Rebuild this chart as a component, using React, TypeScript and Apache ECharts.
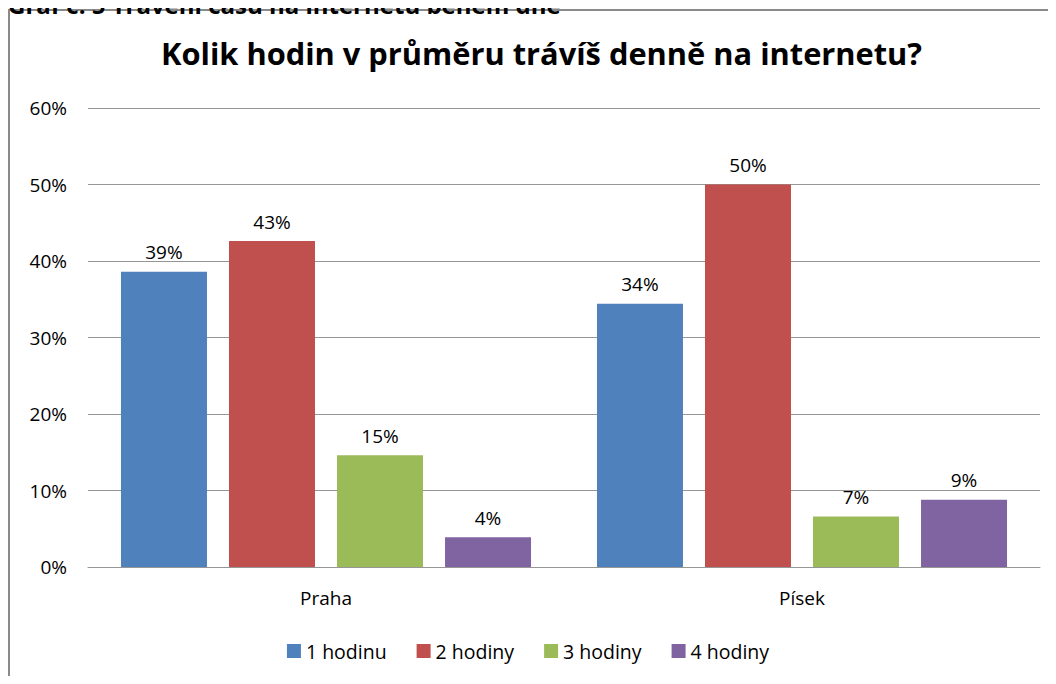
import React, { useEffect, useRef } from "react";
import * as echarts from "echarts";

const categories = ["Praha", "Písek"];
const seriesNames = ["1 hodinu", "2 hodiny", "3 hodiny", "4 hodiny"];
const hodinu1 = [38.6, 34.4];
const hodiny2 = [42.6, 50.0];
const hodiny3 = [14.6, 6.6];
const hodiny4 = [3.9, 8.8];
const colors = ["#4F81BD", "#C0504D", "#9BBB59", "#8064A2"];
const yTicks = [0, 10, 20, 30, 40, 50, 60];

export default function App() {
  const ref = useRef<HTMLDivElement>(null);
  useEffect(() => {
    if (!ref.current) return;
    const chart = echarts.init(ref.current, null, { renderer: "svg" });
    const font = "Open Sans, Noto Sans, sans-serif";
    const data = [hodinu1, hodiny2, hodiny3, hodiny4];
    chart.setOption({
      animation: false,
      backgroundColor: "#fff",
      textStyle: { fontFamily: font },
      title: [
        {
          text: "Kolik hodin v průměru trávíš denně na internetu?",
          left: 156,
          top: 32,
          textStyle: { fontSize: 30.8, fontWeight: "bold", color: "#000", fontFamily: font },
        },
        {
          text: "Graf č. 5 Trávení času na internetu během dne",
          left: 8,
          top: -8,
          padding: 0,
          textStyle: { fontSize: 24, fontWeight: "bold", color: "#000", fontFamily: font },
        },
      ],
      graphic: [
        {
          type: "rect",
          shape: { x: 9, y: 10, width: 1100, height: 700 },
          style: { fill: "#fff", stroke: "#8a8a8a", lineWidth: 2 },
          z: -1,
        },
      ],
      legend: {
        data: seriesNames,
        bottom: 18,
        left: "center",
        itemWidth: 14,
        itemHeight: 14,
        itemGap: 30,
        icon: "rect",
        textStyle: { fontSize: 19.5, color: "#000", fontFamily: font },
      },
      grid: { left: 88, right: 16, top: 108, bottom: 117, containLabel: false },
      xAxis: {
        type: "category",
        data: categories,
        axisLine: { lineStyle: { color: "#969696" } },
        axisTick: { show: false },
        axisLabel: { fontSize: 19, color: "#000", margin: 21, fontFamily: font },
      },
      yAxis: {
        type: "value",
        min: 0,
        max: 60,
        interval: 10,
        axisLine: { show: false },
        axisTick: { show: false },
        axisLabel: {
          fontSize: 19,
          color: "#000",
          margin: 21,
          fontFamily: font,
          formatter: (v: number) => (yTicks.includes(v) ? v + "%" : ""),
        },
        splitLine: { lineStyle: { color: "#969696" } },
      },
      series: seriesNames.map((name, i) => ({
        name,
        type: "bar",
        data: data[i],
        barWidth: 86,
        barGap: "25.6%",
        itemStyle: { color: colors[i] },
        label: {
          show: true,
          position: "top",
          distance: 10,
          fontSize: 19,
          color: "#000",
          fontFamily: font,
          formatter: (p: any) => Math.round(p.value) + "%",
        },
      })),
    });
    return () => chart.dispose();
  }, []);
  return <div ref={ref} style={{ width: 1056, height: 684, margin: -8 }} />;
}
